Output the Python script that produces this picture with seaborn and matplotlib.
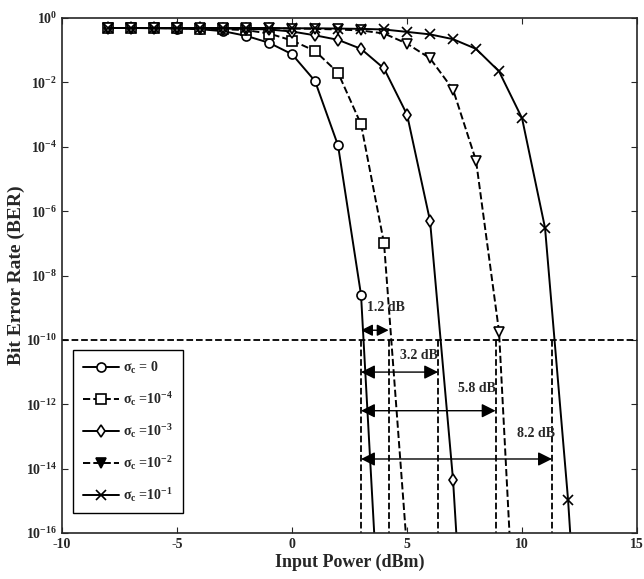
import numpy as np
import pandas as pd
import matplotlib
matplotlib.use("Agg")
import matplotlib.pyplot as plt
import seaborn as sns

# ── data ───────────────────────────────────────────────────────────────────
x_s0 = [-8, -7, -6, -5, -4, -3, -2, -1, 0, 1, 2, 3, 4]
ber_s0 = [0.49, 0.49, 0.48, 0.47, 0.45, 0.39, 0.28, 0.17, 0.075, 0.011, 1.1e-4, 2.5e-9, 3e-22]

x_s4 = [-8, -7, -6, -5, -4, -3, -2, -1, 0, 1, 2, 3, 4, 5]
ber_s4 = [0.49, 0.49, 0.49, 0.48, 0.47, 0.45, 0.42, 0.33, 0.2, 0.095, 0.02, 5e-4, 1e-7, 3e-17]

x_s3 = [-8, -7, -6, -5, -4, -3, -2, -1, 0, 1, 2, 3, 4, 5, 6, 7, 8]
ber_s3 = [0.49, 0.49, 0.49, 0.49, 0.48, 0.47, 0.46, 0.44, 0.38, 0.29, 0.21, 0.11, 0.027,
          1e-3, 5e-7, 4.5e-15, 1e-26]

x_s2 = [-8, -7, -6, -5, -4, -3, -2, -1, 0, 1, 2, 3, 4, 5, 6, 7, 8, 9, 10]
ber_s2 = [0.49, 0.49, 0.49, 0.49, 0.49, 0.49, 0.48, 0.48, 0.47, 0.46, 0.44, 0.41, 0.33,
          0.16, 0.056, 6e-3, 3.7e-5, 1.8e-10, 3e-24]

x_s1 = [-8, -7, -6, -5, -4, -3, -2, -1, 0, 1, 2, 3, 4, 5, 6, 7, 8, 9, 10, 11, 12, 13]
ber_s1 = [0.49, 0.49, 0.49, 0.49, 0.49, 0.49, 0.49, 0.49, 0.48, 0.48, 0.47, 0.46, 0.44,
          0.37, 0.31, 0.22, 0.11, 0.022, 7.7e-4, 3e-7, 1.1e-15, 1e-26]

labels = ["σ$_c$ = 0", "σ$_c$ =10$^{-4}$", "σ$_c$ =10$^{-3}$",
          "σ$_c$ =10$^{-2}$", "σ$_c$ =10$^{-1}$"]

# penalty annotations at BER = 1e-10
ber_ref = 1e-10
x_cross = [3.0, 4.2, 6.35, 8.85, 11.3]
penalty_text = ["1.2 dB", "3.2 dB", "5.8 dB", "8.2 dB"]
arrow_y = [10**-9.7, 1e-11, 10**-12.2, 10**-13.7]
text_pos = [(4.1, 10**-8.98), (5.5, 10**-10.5), (8.05, 10**-11.52), (10.6, 10**-12.9)]

# ── style ──────────────────────────────────────────────────────────────────
sns.set_style("ticks")
plt.rcParams["font.family"] = ["Liberation Serif", "DejaVu Serif"]
plt.rcParams["font.weight"] = "bold"
plt.rcParams["axes.unicode_minus"] = False
plt.rcParams["mathtext.fontset"] = "custom"
plt.rcParams["mathtext.rm"] = "Liberation Serif:bold"
plt.rcParams["mathtext.bf"] = "Liberation Serif:bold"
plt.rcParams["mathtext.it"] = "Liberation Serif:bold:italic"
plt.rcParams["mathtext.default"] = "bf"

fig = plt.figure(figsize=(6.44, 5.79), dpi=100)
ax = fig.add_axes([0.0963, 0.0794, 0.8929, 0.8895])

series = [
    (x_s0, ber_s0, "o", "-"),
    (x_s4, ber_s4, "s", "--"),
    (x_s3, ber_s3, "d", "-"),
    (x_s2, ber_s2, "v", "--"),
    (x_s1, ber_s1, "x", "-"),
]
for (xs, ys, mk, ls), lab in zip(series, labels):
    sns.lineplot(x=xs, y=ys, ax=ax, color="black", linestyle=ls, linewidth=1.4,
                 marker=mk, markersize=6.5, markerfacecolor="white",
                 markeredgecolor="black", markeredgewidth=1.2, label=lab)

ax.set_yscale("log")
ax.set_xlim(-10, 15)
ax.set_ylim(1e-16, 1)

# reference line and vertical guides
ax.axhline(ber_ref, color="black", linestyle="--", linewidth=1.3)
for xc in x_cross:
    ax.plot([xc, xc], [ber_ref, 1e-16], color="black", linestyle="--", linewidth=1.3)

for i, (x_end, ya, txt, (tx, ty)) in enumerate(zip(x_cross[1:], arrow_y, penalty_text, text_pos)):
    head = "head_length=0.5,head_width=0.25" if i == 0 else "head_length=0.6,head_width=0.3"
    ax.annotate("", xy=(x_end, ya), xytext=(x_cross[0], ya),
                arrowprops=dict(arrowstyle="<|-|>," + head,
                                color="black", lw=1.0,
                                mutation_scale=14, shrinkA=0, shrinkB=0))
    ax.text(tx, ty, txt, ha="center", va="center", fontsize=10, fontweight="bold")

ax.set_xticks([-10, -5, 0, 5, 10, 15])
ax.set_yticks([10.0**(-k) for k in range(0, 17, 2)])
ax.set_yticklabels([f"$10^{{{-k}}}$" if k else "$10^{0}$" for k in range(0, 17, 2)])
ax.minorticks_off()
ax.tick_params(direction="in", top=True, right=True, length=4, width=0.8,
               labelsize=10)
for lbl in ax.get_xticklabels():
    lbl.set_fontweight("bold")
for sp in ax.spines.values():
    sp.set_linewidth(1.2)
    sp.set_visible(True)

ax.set_xlabel("Input Power (dBm)", fontsize=13, fontweight="bold", labelpad=2)
ax.set_ylabel("Bit Error Rate (BER)", fontsize=14, fontweight="bold", labelpad=1)

leg = ax.legend(loc="upper left", bbox_to_anchor=(0.019, 0.355), borderaxespad=0,
                fancybox=False, edgecolor="black", framealpha=1, handlelength=2.6,
                handletextpad=0.3, fontsize=10, labelspacing=1.0, borderpad=0.7)
leg.get_frame().set_linewidth(1.0)
# legend shows the triangle filled
leg.legend_handles[3].set_markerfacecolor("black")

fig.savefig("out.png", dpi=100)
